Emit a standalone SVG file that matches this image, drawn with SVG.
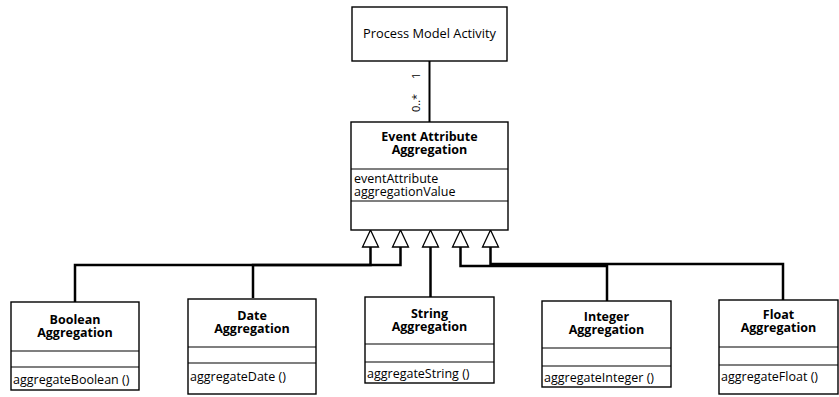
<svg xmlns="http://www.w3.org/2000/svg" width="839" height="397" viewBox="0 0 839 397">
<style>
.box{fill:#fff;stroke:#000;stroke-width:1.4}
.div{stroke:#000;stroke-width:1.2}
.t{font-family:"Open Sans","Liberation Sans",sans-serif;font-size:12.5px;fill:#000}
.b{font-family:"Open Sans","Liberation Sans",sans-serif;font-size:12.5px;font-weight:bold;fill:#000;text-anchor:middle}
.m{font-family:"Open Sans","Liberation Sans",sans-serif;font-size:11px;fill:#000}
.c{fill:none;stroke:#000;stroke-width:2.5}
.tri{fill:#fff;stroke:#000;stroke-width:1.3}
</style>
<g id="connectors">
<path class="c" d="M429.5,61 V122" style="stroke-width:2"/>
<text class="m" transform="translate(420,79) rotate(-90)">1</text>
<text class="m" transform="translate(420,112) rotate(-90)">0..*</text>
<path class="c" d="M75,302 V265 H370.5 V247"/>
<path class="c" d="M253,298 V265 H400.5 V247"/>
<path class="c" d="M430.5,247 V297"/>
<path class="c" d="M460.5,247 V266 H607 V301"/>
<path class="c" d="M490.5,247 V264 H783 V300"/>
<polygon class="tri" points="370.5,230 362.5,247 378.5,247"/>
<polygon class="tri" points="400.5,230 392.5,247 408.5,247"/>
<polygon class="tri" points="430.5,230 422.5,247 438.5,247"/>
<polygon class="tri" points="460.5,230 452.5,247 468.5,247"/>
<polygon class="tri" points="490.5,230 482.5,247 498.5,247"/>
</g>
<g id="process-model-activity">
<rect class="box" x="352" y="7" width="155" height="54"/>
<text class="t" x="429.5" y="38" text-anchor="middle" style="font-size:12.8px">Process Model Activity</text>
</g>
<g id="event-attribute-aggregation">
<rect class="box" x="351" y="122" width="157" height="108"/>
<text class="b" x="429.5" y="141">Event Attribute</text>
<text class="b" x="429.5" y="154">Aggregation</text>
<line class="div" x1="351" y1="169" x2="508" y2="169"/>
<text class="t" x="354" y="183">eventAttribute</text>
<text class="t" x="354" y="196">aggregationValue</text>
<line class="div" x1="351" y1="201" x2="508" y2="201"/>
</g>
<g id="boolean-aggregation">
<rect class="box" x="11" y="302" width="128" height="88"/>
<text class="b" x="75" y="324">Boolean</text>
<text class="b" x="75" y="337">Aggregation</text>
<line class="div" x1="11" y1="351" x2="139" y2="351"/>
<line class="div" x1="11" y1="367" x2="139" y2="367"/>
<text class="t" x="13" y="384">aggregateBoolean ()</text>
</g>
<g id="date-aggregation">
<rect class="box" x="188" y="299" width="128" height="95"/>
<text class="b" x="252" y="320">Date</text>
<text class="b" x="252" y="333">Aggregation</text>
<line class="div" x1="188" y1="347" x2="316" y2="347"/>
<line class="div" x1="188" y1="363" x2="316" y2="363"/>
<text class="t" x="190" y="381">aggregateDate ()</text>
</g>
<g id="string-aggregation">
<rect class="box" x="365" y="297" width="129" height="86"/>
<text class="b" x="429.5" y="318">String</text>
<text class="b" x="429.5" y="331">Aggregation</text>
<line class="div" x1="365" y1="344" x2="494" y2="344"/>
<line class="div" x1="365" y1="362" x2="494" y2="362"/>
<text class="t" x="367" y="378">aggregateString ()</text>
</g>
<g id="integer-aggregation">
<rect class="box" x="542" y="301" width="129" height="86"/>
<text class="b" x="606.5" y="321">Integer</text>
<text class="b" x="606.5" y="334">Aggregation</text>
<line class="div" x1="542" y1="348" x2="671" y2="348"/>
<line class="div" x1="542" y1="366" x2="671" y2="366"/>
<text class="t" x="544" y="382">aggregateInteger ()</text>
</g>
<g id="float-aggregation">
<rect class="box" x="719" y="300" width="119" height="94"/>
<text class="b" x="778.5" y="319">Float</text>
<text class="b" x="778.5" y="332">Aggregation</text>
<line class="div" x1="719" y1="347" x2="838" y2="347"/>
<line class="div" x1="719" y1="365" x2="838" y2="365"/>
<text class="t" x="721" y="381">aggregateFloat ()</text>
</g>
</svg>
